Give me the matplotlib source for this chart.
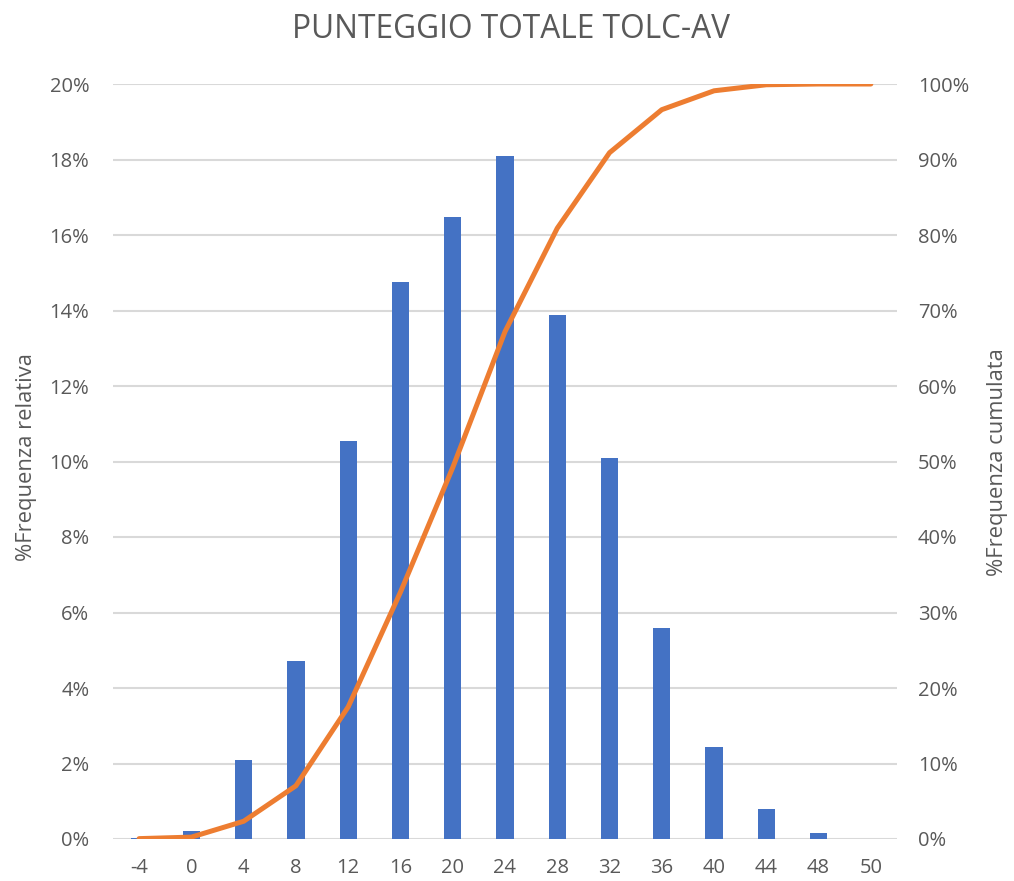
import matplotlib
matplotlib.use("Agg")
import matplotlib.pyplot as plt
from matplotlib.ticker import FuncFormatter, MultipleLocator

categories = ["-4", "0", "4", "8", "12", "16", "20", "24", "28", "32", "36", "40", "44", "48", "50"]
freq_rel = [0.02, 0.21, 2.09, 4.72, 10.54, 14.75, 16.48, 18.10, 13.87, 10.10, 5.59, 2.44, 0.80, 0.16, 0.0]
freq_cum = [0.05, 0.25, 2.35, 7.05, 17.5, 32.7, 49.2, 67.2, 80.9, 90.9, 96.6, 99.1, 99.9, 100.0, 100.0]

title = "PUNTEGGIO TOTALE TOLC-AV"
ylabel_left = "%Frequenza relativa"
ylabel_right = "%Frequenza cumulata"

TXT = "#595959"
BAR = "#4472C4"
LINE = "#ED7D31"
GRID = "#D9D9D9"
FONT = ["Open Sans", "DejaVu Sans"]
plt.rcParams["font.family"] = FONT

W, H = 1014, 881
fig = plt.figure(figsize=(W / 100, H / 100), dpi=100)
ax = fig.add_axes([113 / W, (H - 839) / H, (897 - 113) / W, (839 - 84) / H])
ax2 = ax.twinx()

x = list(range(len(categories)))
ax.bar(x, freq_rel, width=0.33, color=BAR, zorder=2)
ax.set_xlim(-0.5, len(categories) - 0.5)
ax.set_ylim(0, 20)
ax.yaxis.set_major_locator(MultipleLocator(2))
ax.yaxis.set_major_formatter(FuncFormatter(lambda v, p: f"{v:.0f}%"))
ax.grid(axis="y", color=GRID, lw=1.5, zorder=0)
ax.set_axisbelow(True)
ax.set_xticks(x)
ax.set_xticklabels(categories)

ax2.plot(x, freq_cum, color=LINE, lw=3.6, solid_capstyle="round", solid_joinstyle="round", zorder=3)
ax2.set_ylim(0, 100)
ax2.yaxis.set_major_locator(MultipleLocator(10))
ax2.yaxis.set_major_formatter(FuncFormatter(lambda v, p: f"{v:.0f}%"))

for a in (ax, ax2):
    for s in a.spines.values():
        s.set_visible(False)
ax.tick_params(axis="y", length=0, pad=17, labelsize=14.5, labelcolor=TXT)
ax.tick_params(axis="x", length=0, pad=14, labelsize=14.5, labelcolor=TXT)
ax2.tick_params(axis="y", length=0, pad=15, labelsize=14.5, labelcolor=TXT)

fig.text(511 / W, 1 - 30 / H, title, ha="center", va="center", fontsize=22.8, color=TXT)
fig.text(27 / W, 1 - 457 / H, ylabel_left, ha="center", va="center", rotation=90, fontsize=15.8, color=TXT)
fig.text(998 / W, 1 - 462 / H, ylabel_right, ha="center", va="center", rotation=90, fontsize=15.8, color=TXT)

fig.savefig("out.png", dpi=100, facecolor="white")
